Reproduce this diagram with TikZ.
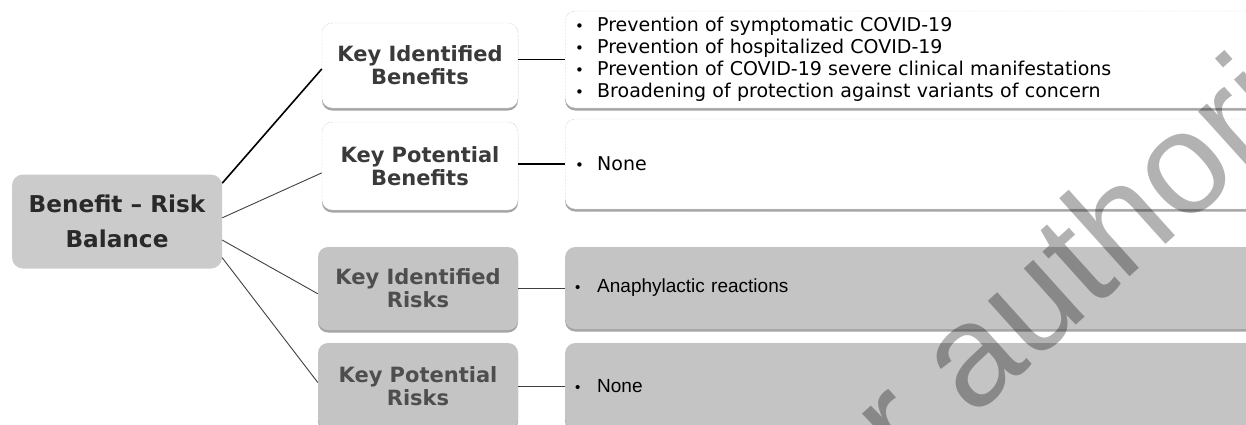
\documentclass[tikz,border=0pt]{standalone}
\usepackage{fontspec}
\setmainfont{DejaVu Sans}
\newfontfamily\arialfont{Liberation Sans}
\usetikzlibrary{shadows}
\definecolor{hubgray}{HTML}{CBCBCB}
\definecolor{riskgray}{HTML}{C4C4C4}
\definecolor{edgegray}{HTML}{A6A6A6}
\definecolor{inkgray}{HTML}{3A3A3A}
\newcommand{\bul}{\makebox[22pt][l]{\fontsize{15}{15}\selectfont •}}
\tikzset{
    hub/.style={rectangle, rounded corners=11pt, fill=hubgray, text=inkgray!70!black, align=center,
        minimum width=210pt, minimum height=94pt, font=\bfseries\fontsize{23.2}{35}\selectfont},
    pro/.style={rectangle, rounded corners=10pt, draw=edgegray, densely dotted, fill=white,
        drop shadow={shadow xshift=0pt, shadow yshift=-2.5pt, fill=black!70},
        text=inkgray, align=center, minimum width=196pt, font=\bfseries\fontsize{21}{23}\selectfont},
    con/.style={pro, draw=none, fill=riskgray, text=inkgray!90, minimum width=200pt},
    detail/.style={rectangle, rounded corners=10pt, anchor=west, align=left, inner xsep=10pt,
        minimum width=720pt, text width=700pt, fill=white, draw=edgegray, densely dotted,
        drop shadow={shadow xshift=0pt, shadow yshift=-2.5pt, fill=black!70},
        font=\fontsize{19}{22}\selectfont},
    riskdetail/.style={detail, draw=none, fill=riskgray, font=\arialfont\fontsize{19}{22}\selectfont},
    link/.style={draw=black!75, line width=0.9pt},
    boldlink/.style={draw=black, line width=1.6pt}
}

\begin{document}
\begin{tikzpicture}[x=1pt, y=-1pt]
    \useasboundingbox (0,0) rectangle (1246,424);

    % Root
    \node[hub] (root) at (117,221.5) {Benefit -- Risk\\Balance};

    % Benefits and risks
    \node[pro, minimum height=85pt] (kib) at (420,65.5) {Key Identified\\Benefits};
    \node[pro, minimum height=88pt] (kpb) at (420,166) {Key Potential\\Benefits};
    \node[con, minimum height=83pt] (kir) at (418,288.5) {Key Identified\\Risks};
    \node[con, minimum height=86pt] (kpr) at (418,386) {Key Potential\\Risks};

    % Detail boxes
    \node[detail, minimum height=97pt] (det1) at (565,59.5) {\bul Prevention of symptomatic COVID-19\\
        \bul Prevention of hospitalized COVID-19\\
        \bul Prevention of COVID-19 severe clinical manifestations\\
        \bul Broadening of protection against variants of concern};
    \node[detail, minimum height=90pt] (det2) at (565,164) {\bul None};
    \node[riskdetail, minimum height=82pt] (det3) at (565,288) {\bul Anaphylactic reactions};
    \node[riskdetail, minimum height=86pt] (det4) at (565,386) {\bul None};

    % Branches from the root
    \draw[boldlink] (root.20) -- (kib.182);
    \draw[link] (root.2) -- (kpb.184);
    \draw[link] (root.-10) -- (kir.183);
    \draw[link] (root.-19) -- (kpr.178);

    % Branches to the details
    \draw[link, draw=black, line width=1.2pt] (kib.east |- det1.west) -- (det1.west);
    \draw[link, draw=black, line width=1.2pt] (kpb.east |- det2.west) -- (det2.west);
    \draw[link] (kir.east |- det3.west) -- (det3.west);
    \draw[link] (kpr.east |- det4.west) -- (det4.west);

    % Watermark
    \node[rotate=42, text=black, text opacity=0.3, font=\arialfont\fontsize{145}{145}\selectfont] (mark) at (1040,288) {or authori};
\end{tikzpicture}
\end{document}
